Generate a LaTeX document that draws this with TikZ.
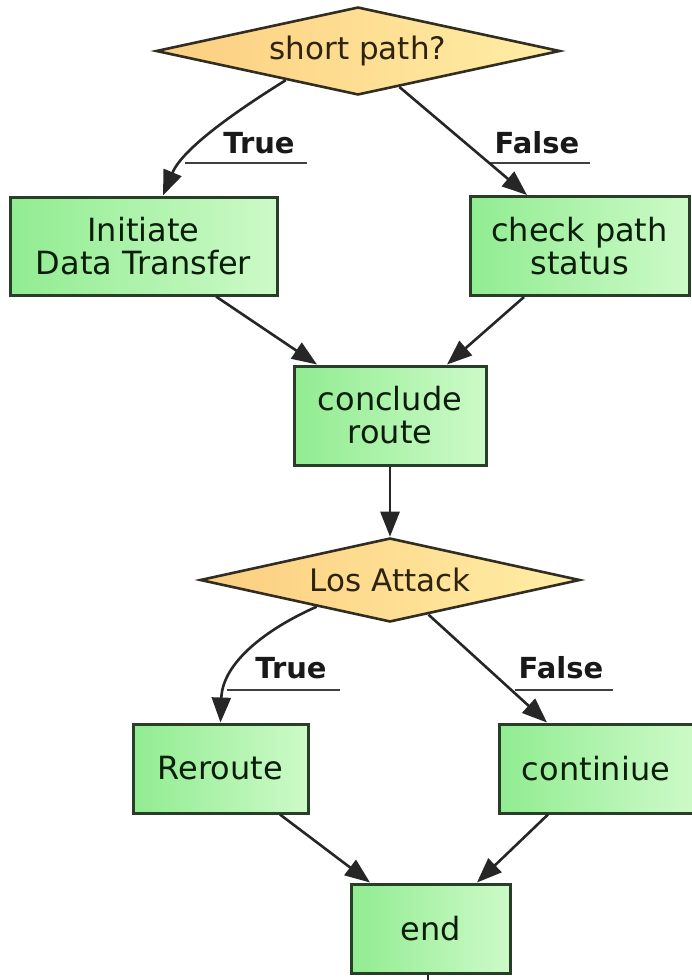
\documentclass[tikz,border=0pt]{standalone}
\usepackage{fontspec}
\setmainfont{DejaVu Sans}
\usetikzlibrary{shapes.geometric,arrows.meta,calc}
\definecolor{boxL}{RGB}{145,236,145}
\definecolor{boxR}{RGB}{205,250,200}
\definecolor{boxB}{RGB}{40,62,40}
\definecolor{boxT}{RGB}{10,30,10}
\definecolor{diaL}{RGB}{252,206,128}
\definecolor{diaR}{RGB}{255,238,165}
\definecolor{diaB}{RGB}{50,45,35}
\definecolor{diaT}{RGB}{45,35,15}
\tikzset{
  stepbox/.style={rectangle, draw=boxB, line width=3pt, left color=boxL, right color=boxR,
    text=boxT, align=center, inner sep=0pt, font=\fontsize{32}{33}\selectfont},
  decision/.style={diamond, draw=diaB, line width=2.6pt, left color=diaL, right color=diaR,
    text=diaT, inner sep=0pt, aspect=4.6, font=\fontsize{31}{33}\selectfont},
  conn/.style={draw=black!85, line width=2.6pt, -{Triangle[length=25pt,width=19pt]}},
  plain/.style={draw=black!85, line width=2.6pt},
  branch/.style={font=\bfseries\fontsize{29}{31}\selectfont, text=black!90, anchor=base, inner sep=0pt},
  uline/.style={draw=black!75, line width=2pt}
}
\begin{document}
\begin{tikzpicture}[x=1pt,y=-1pt]
\useasboundingbox (0,0) rectangle (691,980);
\fill[white] (0,0) rectangle (691,980);

% decision 1
\node[decision, minimum width=404pt, minimum height=88pt] (d1) at (358,51) {short path?};
% boxes row 1
\node[stepbox, minimum width=267pt, minimum height=98pt] (b1) at (143.5,246) {Initiate\\Data Transfer};
\node[stepbox, minimum width=219pt, minimum height=99pt] (b2) at (579.5,246) {check path\\status};
\node[stepbox, minimum width=192pt, minimum height=99pt] (c) at (390,415.5) {conclude\\route};
% decision 2
\node[decision, minimum width=380pt, minimum height=84pt] (d2) at (390,580) {Los Attack};
% boxes row 2
\node[stepbox, minimum width=175pt, minimum height=89pt] (r) at (220.5,768.5) {Reroute};
\node[stepbox, minimum width=194pt, minimum height=89pt] (n) at (596,768.5) {continiue};
\node[stepbox, minimum width=159pt, minimum height=89pt] (e) at (430.5,928.5) {end};
\coordinate (out) at (428,985);

% labels
\node[branch] (t1) at (259,153) {True};
\node[branch] (f1) at (537,153) {False};
\node[branch] (t2) at (291,678) {True};
\node[branch] (f2) at (561,678) {False};
\draw[uline] ($(t1.base)+(-74,10)$) -- ($(t1.base)+(48,10)$);
\draw[uline] ($(f1.base)+(-49,10)$) -- ($(f1.base)+(53,10)$);
\draw[uline] ($(t2.base)+(-64,12)$) -- ($(t2.base)+(49,12)$);
\draw[uline] ($(f2.base)+(-46,12)$) -- ($(f2.base)+(52,12)$);

% connectors
\draw[conn] (d1.202.5) .. controls +(-45,28) and +(20,-48) .. ($(b1.north)+(19.5,0)$);
\draw[conn] (d1.319.8) -- ($(b2.north)+(-52.5,0)$);
\draw[conn] ($(b1.south)+(72.5,0)$) -- ($(c.north)+(-73,0)$);
\draw[conn] ($(b2.south)+(-55.5,0)$) -- ($(c.north)+(57,0)$);
\draw[conn] (c.south) -- (d2.north);
\draw[conn] (d2.200) .. controls +(-50,22) and +(2,-60) .. (r.north);
\draw[conn] (d2.318.6) -- ($(n.north)+(-49,0)$);
\draw[conn] ($(r.south)+(59.5,0)$) -- ($(e.north)+(-60.5,0)$);
\draw[conn] ($(n.south)+(-48,0)$) -- ($(e.north)+(46.5,0)$);
\draw[plain] ($(e.south)+(-2.5,0)$) -- (out);
\end{tikzpicture}
\end{document}
